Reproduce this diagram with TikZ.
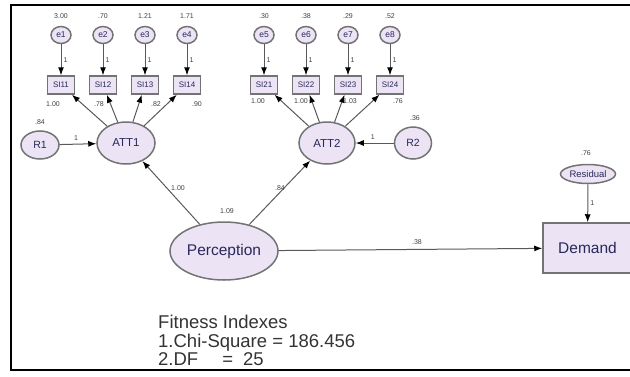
\documentclass[tikz,border=0pt]{standalone}
\usepackage{fontspec}
\setmainfont{Liberation Sans}
\usetikzlibrary{shapes.geometric,arrows.meta}
\definecolor{amosfill}{RGB}{236,228,245}
\definecolor{amostext}{RGB}{40,40,90}
\begin{document}
\begin{tikzpicture}[x=1pt,y=-1pt,
  lat/.style={ellipse, draw=black!55, line width=1.5pt, fill=amosfill, text=amostext, inner sep=0pt},
  obs/.style={rectangle, draw=black!55, line width=1.5pt, fill=amosfill, text=amostext, inner sep=0pt},
  err/.style={lat, minimum width=20pt, minimum height=17pt, font=\fontsize{8.5}{8.5}\selectfont},
  item/.style={obs, minimum width=27pt, minimum height=18pt, font=\fontsize{8}{8}\selectfont},
  lab/.style={font=\fontsize{7}{7}\selectfont, text=black!75, inner sep=0pt},
  arr/.style={draw=black!65, line width=1pt, -{Latex[length=8pt,width=6pt,black]}}]
\useasboundingbox (0,0) rectangle (630,376);
\draw[line width=1.6pt] (630,5) -- (11,5) -- (11,370) -- (630,370);
\node[lat, minimum width=58pt, minimum height=42pt, font=\fontsize{11.5}{11.5}\selectfont] (att1) at (126,143){ATT1};
\node[lat, minimum width=56pt, minimum height=42pt, font=\fontsize{11.5}{11.5}\selectfont] (att2) at (327,143){ATT2};
\node[err] (e1) at (61,35){e1};
\node[err] (e2) at (103,35){e2};
\node[err] (e3) at (145,35){e3};
\node[err] (e4) at (187,35){e4};
\node[item] (si11) at (61,85){SI11};
\node[item] (si12) at (103,85){SI12};
\node[item] (si13) at (145,85){SI13};
\node[item] (si14) at (187,85){SI14};
\node[lab] (v1) at (61,16){3.00};
\node[lab] (v2) at (103,16){.70};
\node[lab] (v3) at (145,16){1.21};
\node[lab] (v4) at (187,16){1.71};
\draw[arr] (e1) -- (si11) node[lab, pos=.5, right=2pt]{1};
\draw[arr] (e2) -- (si12) node[lab, pos=.5, right=2pt]{1};
\draw[arr] (e3) -- (si13) node[lab, pos=.5, right=2pt]{1};
\draw[arr] (e4) -- (si14) node[lab, pos=.5, right=2pt]{1};
\draw[arr] (att1) -- (si11);
\draw[arr] (att1) -- (si12);
\draw[arr] (att1) -- (si13);
\draw[arr] (att1) -- (si14);
\node[lab] (w11) at (53,104){1.00};
\node[lab] (w12) at (99,104){.78};
\node[lab] (w13) at (156,104){.82};
\node[lab] (w14) at (197,104){.90};
\node[err] (e5) at (264,35){e5};
\node[err] (e6) at (306,35){e6};
\node[err] (e7) at (348,35){e7};
\node[err] (e8) at (390,35){e8};
\node[item] (si21) at (264,85){SI21};
\node[item] (si22) at (306,85){SI22};
\node[item] (si23) at (348,85){SI23};
\node[item] (si24) at (390,85){SI24};
\node[lab] (v5) at (264,16){.30};
\node[lab] (v6) at (306,16){.38};
\node[lab] (v7) at (348,16){.29};
\node[lab] (v8) at (390,16){.52};
\draw[arr] (e5) -- (si21) node[lab, pos=.5, right=2pt]{1};
\draw[arr] (e6) -- (si22) node[lab, pos=.5, right=2pt]{1};
\draw[arr] (e7) -- (si23) node[lab, pos=.5, right=2pt]{1};
\draw[arr] (e8) -- (si24) node[lab, pos=.5, right=2pt]{1};
\draw[arr] (att2) -- (si21);
\draw[arr] (att2) -- (si22);
\draw[arr] (att2) -- (si23);
\draw[arr] (att2) -- (si24);
\node[lab] (w21) at (258,101){1.00};
\node[lab] (w22) at (301,101){1.00};
\node[lab] (w23) at (350,101){1.03};
\node[lab] (w24) at (398,101){.76};
\node[lat, minimum width=38pt, minimum height=28pt, font=\fontsize{10.5}{10.5}\selectfont] (r1) at (40,145){R1};
\node[lab] (vr1) at (40,122){.84};
\draw[arr] (r1) -- (att1) node[lab, pos=.45, above=3pt]{1};
\node[lat, minimum width=37pt, minimum height=32pt, font=\fontsize{10.5}{10.5}\selectfont] (r2) at (413,143){R2};
\node[lab] (vr2) at (415,118){.36};
\draw[arr] (r2) -- (att2) node[lab, pos=.55, above=3pt]{1};
\node[lat, minimum width=108pt, minimum height=58pt, font=\fontsize{15.5}{15.5}\selectfont] (perc) at (224,251){Perception};
\node[lab] (vp) at (227,211){1.09};
\draw[arr] (perc) -- (att1);
\draw[arr] (perc) -- (att2);
\node[lab] (wa1) at (178,188){1.00};
\node[lab] (wa2) at (280,188){.84};
\node[obs, minimum width=89pt, minimum height=50pt, font=\fontsize{15.5}{15.5}\selectfont] (dem) at (587.5,248){Demand};
\node[lat, minimum width=55pt, minimum height=19pt, font=\fontsize{9.5}{9.5}\selectfont] (res) at (588,174){Residual};
\node[lab] (vres) at (586,153){.76};
\draw[arr] (res) -- (dem) node[lab, pos=.5, right=2pt]{1};
\draw[arr] (perc) -- (dem);
\node[lab] (wd) at (417,242){.38};
\node[anchor=base west, inner sep=0pt, font=\fontsize{18.5}{18}\selectfont, text=black!80] (fit1) at (158,328){Fitness Indexes};
\node[anchor=base west, inner sep=0pt, font=\fontsize{18.5}{18}\selectfont, text=black!80] (fit2) at (158,347){1.Chi-Square = 186.456};
\node[anchor=base west, inner sep=0pt, font=\fontsize{18.5}{18}\selectfont, text=black!80] (fit3) at (158,365){2.DF\hspace{24pt}=\hspace{10pt}25};
\end{tikzpicture}
\end{document}
